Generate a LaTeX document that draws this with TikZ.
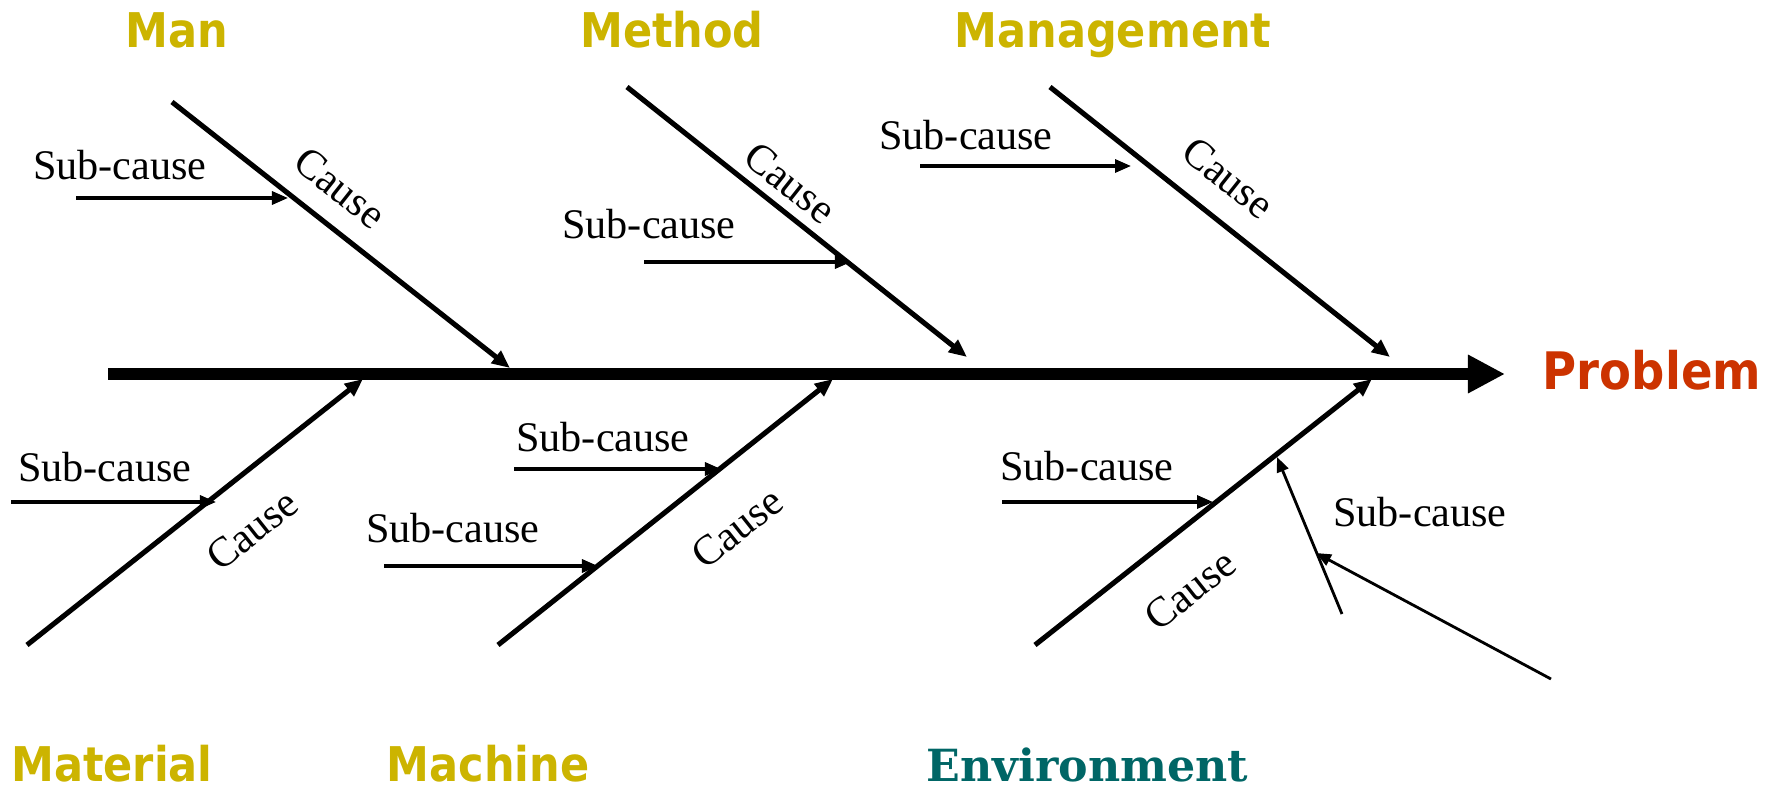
\documentclass[tikz,border=0pt]{standalone}
\usepackage{fontspec}
\setmainfont{Liberation Serif}
\newfontfamily\catfont[FakeStretch=0.9]{DejaVu Sans}
\newfontfamily\envfont{DejaVu Serif}
\usetikzlibrary{arrows.meta}
\definecolor{gold}{RGB}{204,180,0}
\definecolor{probred}{RGB}{204,51,0}
\definecolor{envteal}{RGB}{0,102,102}
\tikzset{
  spine/.style={line width=3.4pt,-{Triangle[length=0.37cm,width=0.36cm]}},
  causeline/.style={line width=1.45pt,-{Triangle[length=0.18cm,width=0.15cm]}},
  subarrow/.style={line width=0.9pt,-{Triangle[length=0.16cm,width=0.13cm]}},
  subsub/.style={line width=0.8pt,-{Triangle[length=0.15cm,width=0.12cm]}},
  cat/.style={font=\catfont\bfseries\fontsize{13.6}{16}\selectfont,text=gold,anchor=base,inner sep=0pt},
  subtxt/.style={font=\fontsize{12}{14}\selectfont,inner sep=0pt},
  causetxt/.style={font=\fontsize{12}{14}\selectfont,inner sep=0pt},
}
\begin{document}
\begin{tikzpicture}[x=0.01cm,y=-0.01cm]
\useasboundingbox (0,0) rectangle (1781,788);
% category labels
\node[cat] (man) at (177,47.7) {Man};
\node[cat] (method) at (672,47.7) {Method};
\node[cat] (mgmt) at (1113,47.7) {Management};
\node[cat] (material) at (112,781) {Material};
\node[cat] (machine) at (488,781) {Machine};
\node[font=\envfont\bfseries\fontsize{12.6}{15}\selectfont,text=envteal,anchor=base,inner sep=0pt] (env) at (1087.5,781) {Environment};
\node[font=\catfont\bfseries\fontsize{14.7}{17}\selectfont,text=probred,anchor=base,inner sep=0pt] (problem) at (1652,389.6) {Problem};
% spine
\coordinate (spS) at (108,374);
\coordinate (spT) at (1505,374);
\draw[spine] (spS) -- (spT);
% cause lines
\coordinate (manS) at (172,102);   \coordinate (manT) at (510,368);
\coordinate (metS) at (627,87);    \coordinate (metT) at (967,357);
\coordinate (mgtS) at (1050,87);   \coordinate (mgtT) at (1390,357);
\coordinate (matS) at (27,645);    \coordinate (matT) at (363,379);
\coordinate (macS) at (498,645);   \coordinate (macT) at (833,379);
\coordinate (envS) at (1035,645);  \coordinate (envT) at (1372,379);
\draw[causeline] (manS) -- (manT);
\draw[causeline] (metS) -- (metT);
\draw[causeline] (mgtS) -- (mgtT);
\draw[causeline] (matS) -- (matT);
\draw[causeline] (macS) -- (macT);
\draw[causeline] (envS) -- (envT);
% cause labels
\node[causetxt,rotate=-38.4] (cman) at (340,188) {Cause};
\node[causetxt,rotate=-38.4] (cmet) at (790,183) {Cause};
\node[causetxt,rotate=-38.4] (cmgt) at (1228,178) {Cause};
\node[causetxt,rotate=38.4] (cmat) at (252,530) {Cause};
\node[causetxt,rotate=38.4] (cmac) at (737,528) {Cause};
\node[causetxt,rotate=38.4] (cenv) at (1190,590) {Cause};
% sub-cause texts
\node[subtxt] (sman) at (120,165) {Sub-cause};
\node[subtxt] (smet) at (649,224) {Sub-cause};
\node[subtxt] (smgt) at (966,135) {Sub-cause};
\node[subtxt] (smat) at (105,467) {Sub-cause};
\node[subtxt] (smac1) at (603,437) {Sub-cause};
\node[subtxt] (smac2) at (453,528) {Sub-cause};
\node[subtxt] (senv) at (1087,466) {Sub-cause};
\node[subtxt] (ssub) at (1420,512) {Sub-cause};
% sub-cause arrows
\coordinate (a1s) at (76,198);    \coordinate (a1t) at (288,198);
\coordinate (a2s) at (644,262);   \coordinate (a2t) at (851,262);
\coordinate (a3s) at (920,166);   \coordinate (a3t) at (1131,166);
\coordinate (a4s) at (11,502);    \coordinate (a4t) at (216,502);
\coordinate (a5s) at (514,469);   \coordinate (a5t) at (721,469);
\coordinate (a6s) at (384,566);   \coordinate (a6t) at (598,566);
\coordinate (a7s) at (1002,502);  \coordinate (a7t) at (1213,502);
\draw[subarrow] (a1s) -- (a1t);
\draw[subarrow] (a2s) -- (a2t);
\draw[subarrow] (a3s) -- (a3t);
\draw[subarrow] (a4s) -- (a4t);
\draw[subarrow] (a5s) -- (a5t);
\draw[subarrow] (a6s) -- (a6t);
\draw[subarrow] (a7s) -- (a7t);
% sub-sub-cause
\coordinate (b1s) at (1342,614);  \coordinate (b1t) at (1277,457);
\coordinate (b2s) at (1551,679);  \coordinate (b2t) at (1316,553);
\draw[subsub] (b1s) -- (b1t);
\draw[subsub] (b2s) -- (b2t);
\end{tikzpicture}
\end{document}
